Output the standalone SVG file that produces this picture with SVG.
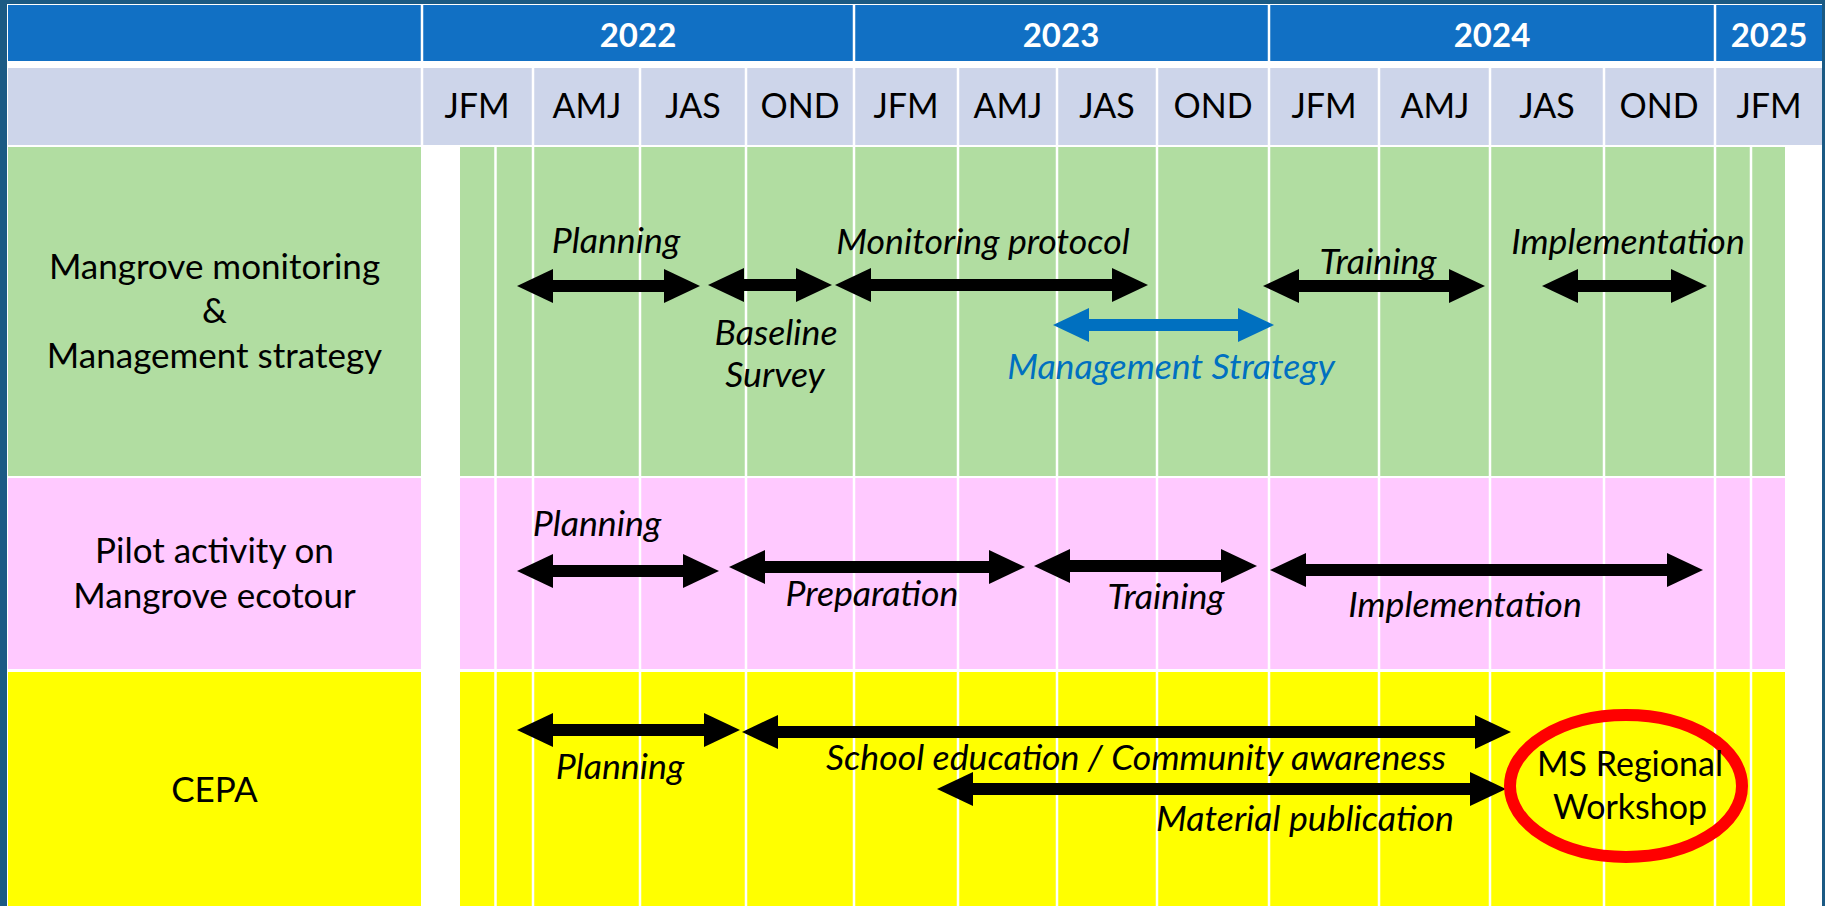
<svg xmlns="http://www.w3.org/2000/svg" width="1825" height="906" viewBox="0 0 1825 906">
<style>
  .t { font-family: Lato, "Liberation Sans", sans-serif; font-size: 34px; fill: #000; text-anchor: middle; }
  .rl { font-size: 35px; }
  .i { font-style: italic; font-size: 35.7px; }
  .yr { font-family: Lato, "Liberation Sans", sans-serif; font-size: 33px; font-weight: bold; fill: #fff; text-anchor: middle; }
  .sep { stroke: #fff; stroke-width: 2.5; }
  .arr { stroke: #000; stroke-width: 12; fill: none; marker-start: url(#ah); marker-end: url(#ah); }
  .arrb { stroke: #0070C0; stroke-width: 12; fill: none; marker-start: url(#ahb); marker-end: url(#ahb); }
  .green { fill: #B1DDA1; }
  .pink { fill: #FFC9FF; }
  .yellow { fill: #FFFF00; }
</style>
<defs>
  <marker id="ah" viewBox="0 0 36 34" markerWidth="36" markerHeight="34" refX="6" refY="17" orient="auto-start-reverse" markerUnits="userSpaceOnUse">
    <path d="M0,0 L36,17 L0,34 Z" fill="#000"/>
  </marker>
  <marker id="ahb" viewBox="0 0 36 34" markerWidth="36" markerHeight="34" refX="6" refY="17" orient="auto-start-reverse" markerUnits="userSpaceOnUse">
    <path d="M0,0 L36,17 L0,34 Z" fill="#0070C0"/>
  </marker>
</defs>

<!-- frame -->
<rect x="0" y="0" width="1825" height="906" fill="#1B5A84"/>
<rect x="7" y="4" width="1815" height="902" fill="#fff"/>

<!-- header rows -->
<g id="header">
  <rect x="8" y="5" width="1814" height="56" fill="#1170C4"/>
  <g class="sep">
    <line x1="422" y1="5" x2="422" y2="61"/>
    <line x1="854" y1="5" x2="854" y2="61"/>
    <line x1="1269" y1="5" x2="1269" y2="61"/>
    <line x1="1715" y1="5" x2="1715" y2="61"/>
  </g>
  <text class="yr" x="638" y="47">2022</text>
  <text class="yr" x="1061" y="47">2023</text>
  <text class="yr" x="1492" y="47">2024</text>
  <text class="yr" x="1769" y="47">2025</text>

  <rect x="8" y="68" width="1814" height="77" fill="#CDD5EA"/>
  <g class="sep">
    <line x1="422" y1="68" x2="422" y2="145"/>
    <line x1="533" y1="68" x2="533" y2="145"/>
    <line x1="640" y1="68" x2="640" y2="145"/>
    <line x1="746" y1="68" x2="746" y2="145"/>
    <line x1="854" y1="68" x2="854" y2="145"/>
    <line x1="958" y1="68" x2="958" y2="145"/>
    <line x1="1057" y1="68" x2="1057" y2="145"/>
    <line x1="1157" y1="68" x2="1157" y2="145"/>
    <line x1="1269" y1="68" x2="1269" y2="145"/>
    <line x1="1379" y1="68" x2="1379" y2="145"/>
    <line x1="1490" y1="68" x2="1490" y2="145"/>
    <line x1="1604" y1="68" x2="1604" y2="145"/>
    <line x1="1715" y1="68" x2="1715" y2="145"/>
  </g>
  <g class="t">
    <text x="477" y="118">JFM</text>
    <text x="587" y="118">AMJ</text>
    <text x="693" y="118">JAS</text>
    <text x="800" y="118">OND</text>
    <text x="906" y="118">JFM</text>
    <text x="1008" y="118">AMJ</text>
    <text x="1107" y="118">JAS</text>
    <text x="1213" y="118">OND</text>
    <text x="1324" y="118">JFM</text>
    <text x="1435" y="118">AMJ</text>
    <text x="1547" y="118">JAS</text>
    <text x="1659" y="118">OND</text>
    <text x="1769" y="118">JFM</text>
  </g>
</g>

<!-- body bands -->
<g id="bands">
  <rect class="green" x="8" y="147" width="413" height="329"/>
  <rect class="green" x="460" y="147" width="1325" height="329"/>
  <rect class="pink" x="8" y="478" width="413" height="191"/>
  <rect class="pink" x="460" y="478" width="1325" height="191"/>
  <rect class="yellow" x="8" y="672" width="413" height="234"/>
  <rect class="yellow" x="460" y="672" width="1325" height="234"/>
  <g class="sep">
    <line x1="495.5" y1="147" x2="495.5" y2="906"/>
    <line x1="533" y1="147" x2="533" y2="906"/>
    <line x1="640" y1="147" x2="640" y2="906"/>
    <line x1="746" y1="147" x2="746" y2="906"/>
    <line x1="854" y1="147" x2="854" y2="906"/>
    <line x1="958" y1="147" x2="958" y2="906"/>
    <line x1="1057" y1="147" x2="1057" y2="906"/>
    <line x1="1157" y1="147" x2="1157" y2="906"/>
    <line x1="1269" y1="147" x2="1269" y2="906"/>
    <line x1="1379" y1="147" x2="1379" y2="906"/>
    <line x1="1490" y1="147" x2="1490" y2="906"/>
    <line x1="1604" y1="147" x2="1604" y2="906"/>
    <line x1="1715" y1="147" x2="1715" y2="906"/>
    <line x1="1751" y1="147" x2="1751" y2="906"/>
  </g>
</g>

<!-- row labels -->
<g id="row-mangrove" class="t rl">
  <text x="214.5" y="279">Mangrove monitoring</text>
  <text x="214.5" y="323">&amp;</text>
  <text x="214.5" y="368">Management strategy</text>
</g>
<g id="row-pilot" class="t rl">
  <text x="214.5" y="563">Pilot activity on</text>
  <text x="214.5" y="608">Mangrove ecotour</text>
</g>
<g id="row-cepa" class="t rl">
  <text x="214.5" y="802">CEPA</text>
</g>

<!-- connectors -->
<g id="connectors">
  <line class="arr" x1="547" y1="286" x2="670" y2="286"/>
  <line class="arr" x1="738" y1="285" x2="802" y2="285"/>
  <line class="arr" x1="865" y1="285" x2="1118" y2="285"/>
  <line class="arrb" x1="1083" y1="325" x2="1244" y2="325"/>
  <line class="arr" x1="1293" y1="286" x2="1455" y2="286"/>
  <line class="arr" x1="1572" y1="286" x2="1677" y2="286"/>

  <line class="arr" x1="547" y1="571" x2="689" y2="571"/>
  <line class="arr" x1="759" y1="567" x2="995" y2="567"/>
  <line class="arr" x1="1064" y1="566" x2="1227" y2="566"/>
  <line class="arr" x1="1300" y1="570" x2="1673" y2="570"/>

  <line class="arr" x1="547" y1="730" x2="710" y2="730"/>
  <line class="arr" x1="772" y1="732" x2="1481" y2="732"/>
  <line class="arr" x1="967" y1="789" x2="1476" y2="789"/>
</g>

<!-- task labels -->
<g id="task-mm-planning" class="t i"><text x="616" y="253">Planning</text></g>
<g id="task-mm-baseline" class="t i"><text x="776" y="345">Baseline</text><text x="775" y="387">Survey</text></g>
<g id="task-mm-protocol" class="t i"><text x="983" y="254">Monitoring protocol</text></g>
<g id="task-mm-strategy" class="t i"><text x="1171" y="379" style="fill:#0070C0">Management Strategy</text></g>
<g id="task-mm-training" class="t i"><text x="1378" y="274">Training</text></g>
<g id="task-mm-impl" class="t i"><text x="1628" y="254">Implementation</text></g>

<g id="task-pa-planning" class="t i"><text x="597" y="536">Planning</text></g>
<g id="task-pa-prep" class="t i"><text x="872" y="606">Preparation</text></g>
<g id="task-pa-training" class="t i"><text x="1166" y="609">Training</text></g>
<g id="task-pa-impl" class="t i"><text x="1465" y="617">Implementation</text></g>

<g id="task-cepa-planning" class="t i"><text x="620" y="779">Planning</text></g>
<g id="task-cepa-school" class="t i"><text x="1136" y="770">School education / Community awareness</text></g>
<g id="task-cepa-material" class="t i"><text x="1305" y="831">Material publication</text></g>

<g id="ms-workshop">
  <ellipse cx="1626" cy="786" rx="116" ry="71" fill="none" stroke="#FF0000" stroke-width="12"/>
  <text class="t" x="1630" y="776">MS Regional</text>
  <text class="t" x="1630" y="819">Workshop</text>
</g>
</svg>
